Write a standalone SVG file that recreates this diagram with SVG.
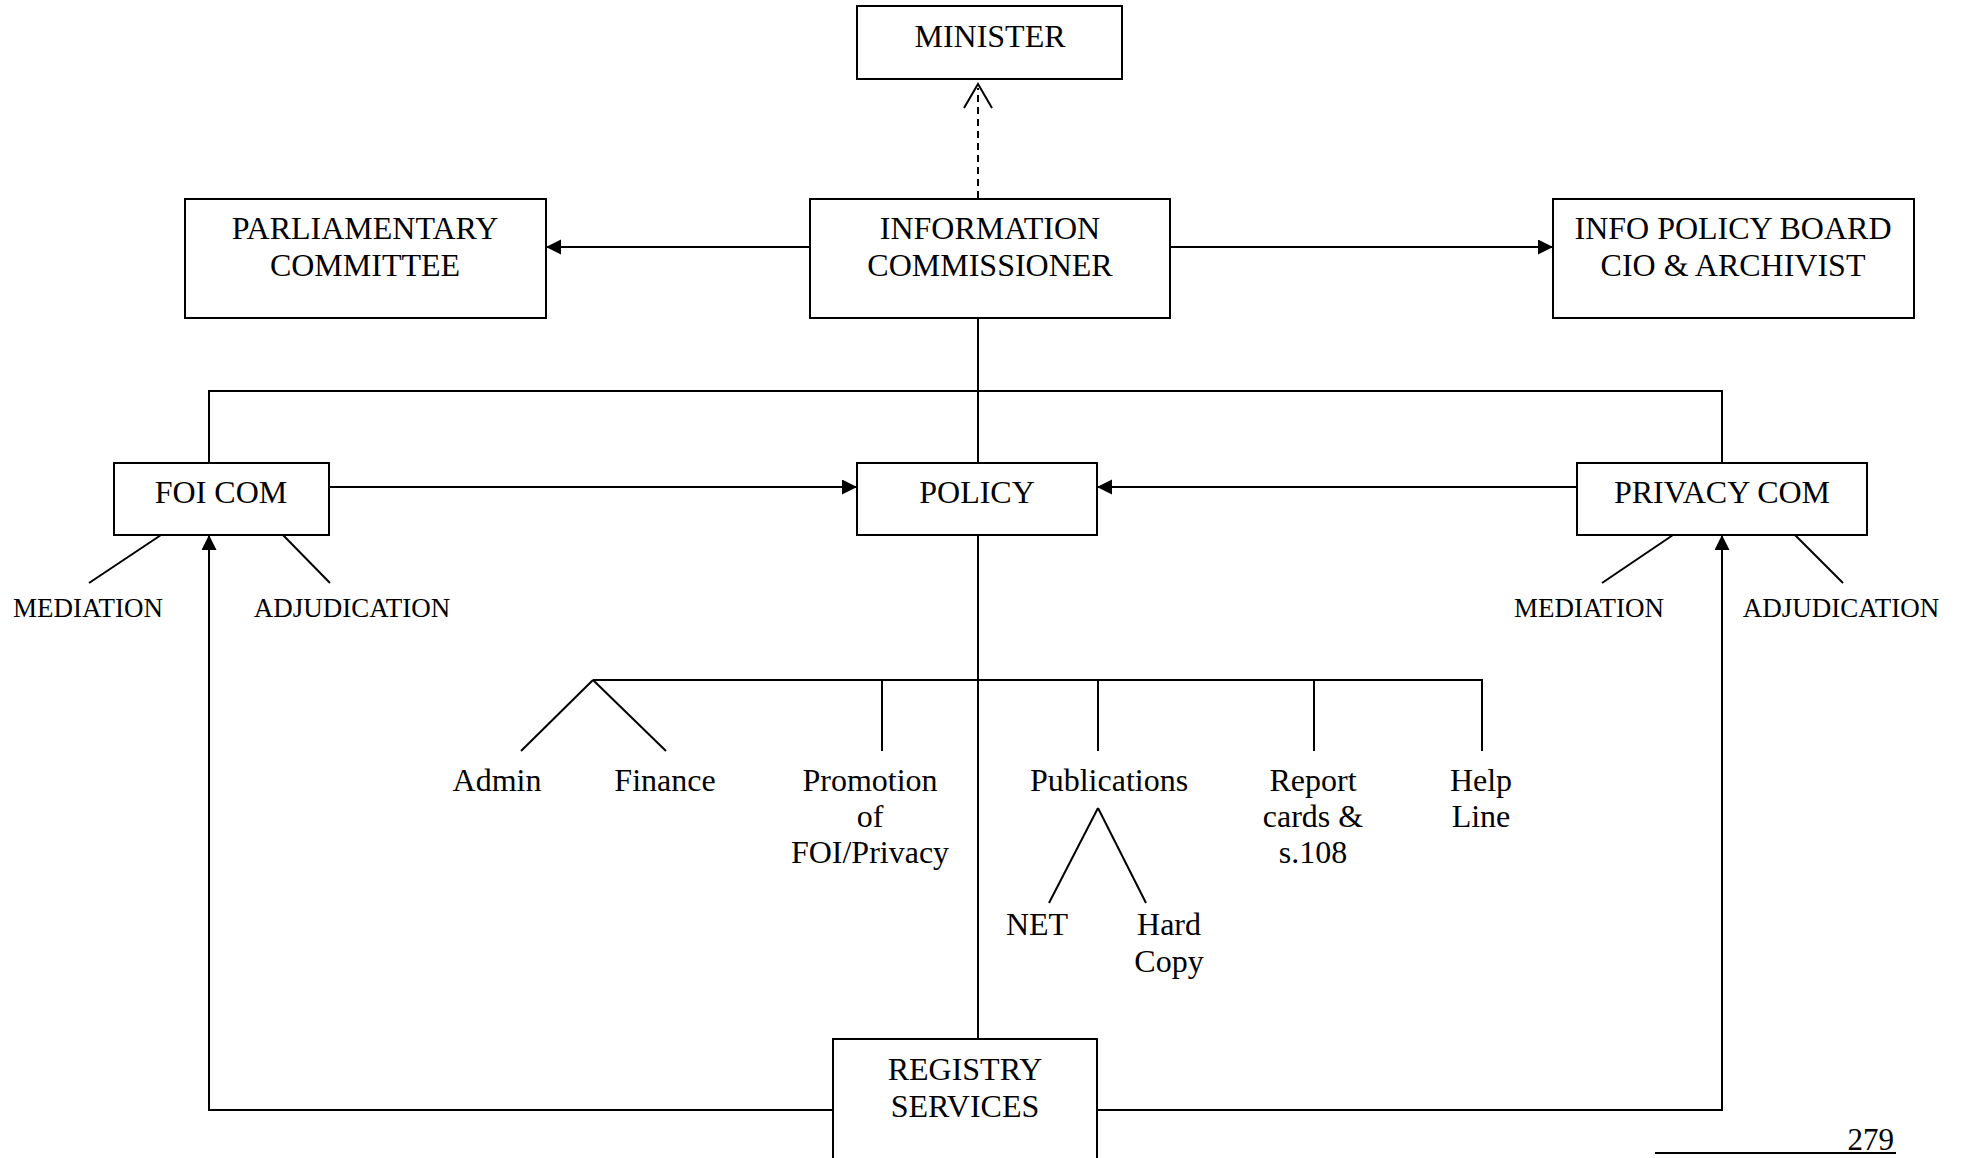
<svg xmlns="http://www.w3.org/2000/svg" width="1962" height="1158" viewBox="0 0 1962 1158">
<style>
  .box { fill: #fff; stroke: #000; stroke-width: 2; }
  .ln { fill: none; stroke: #000; stroke-width: 2; }
  .t { font-family: "Liberation Serif", "Times New Roman", serif; font-size: 32px; fill: #000; text-anchor: middle; }
  .s { font-family: "Liberation Serif", "Times New Roman", serif; font-size: 27px; fill: #000; text-anchor: middle; }
</style>
<defs>
  <marker id="ah" markerWidth="16" markerHeight="16" refX="15" refY="7.5" orient="auto" markerUnits="userSpaceOnUse">
    <path d="M0,0 L15,7.5 L0,15 Z" fill="#000"/>
  </marker>
</defs>
<rect width="1962" height="1158" fill="#fff"/>

<g id="connectors">
  <line class="ln" x1="978" y1="198" x2="978" y2="88" stroke-dasharray="7,5"/>
  <path class="ln" d="M964,108 L978,84 L992,108"/>
  <line class="ln" x1="810" y1="247" x2="546" y2="247" marker-end="url(#ah)"/>
  <line class="ln" x1="1170" y1="247" x2="1553" y2="247" marker-end="url(#ah)"/>
  <line class="ln" x1="978" y1="318" x2="978" y2="463"/>
  <path class="ln" d="M209,463 L209,391 L1722,391 L1722,463"/>
  <line class="ln" x1="329" y1="487" x2="857" y2="487" marker-end="url(#ah)"/>
  <line class="ln" x1="1577" y1="487" x2="1097" y2="487" marker-end="url(#ah)"/>
  <line class="ln" x1="161" y1="535" x2="89" y2="583"/>
  <line class="ln" x1="283" y1="535" x2="330" y2="583"/>
  <line class="ln" x1="1673" y1="535" x2="1602" y2="583"/>
  <line class="ln" x1="1795" y1="535" x2="1843" y2="583"/>
  <line class="ln" x1="978" y1="535" x2="978" y2="1039"/>
  <path class="ln" d="M593,680 L1482,680 L1482,751"/>
  <line class="ln" x1="593" y1="680" x2="521" y2="751"/>
  <line class="ln" x1="593" y1="680" x2="666" y2="751"/>
  <line class="ln" x1="882" y1="680" x2="882" y2="751"/>
  <line class="ln" x1="1098" y1="680" x2="1098" y2="751"/>
  <line class="ln" x1="1314" y1="680" x2="1314" y2="751"/>
  <line class="ln" x1="1098" y1="808" x2="1049" y2="903"/>
  <line class="ln" x1="1098" y1="808" x2="1146" y2="903"/>
  <path class="ln" d="M833,1110 L209,1110 L209,535" marker-end="url(#ah)"/>
  <path class="ln" d="M1097,1110 L1722,1110 L1722,535" marker-end="url(#ah)"/>
</g>

<g id="minister">
  <rect class="box" x="857" y="6" width="265" height="73"/>
  <text class="t" x="990" y="47">MINISTER</text>
</g>
<g id="information-commissioner">
  <rect class="box" x="810" y="199" width="360" height="119"/>
  <text class="t" x="990" y="239">INFORMATION</text>
  <text class="t" x="990" y="276">COMMISSIONER</text>
</g>
<g id="parliamentary-committee">
  <rect class="box" x="185" y="199" width="361" height="119"/>
  <text class="t" x="365" y="239">PARLIAMENTARY</text>
  <text class="t" x="365" y="276">COMMITTEE</text>
</g>
<g id="info-policy-board">
  <rect class="box" x="1553" y="199" width="361" height="119"/>
  <text class="t" x="1733" y="239">INFO POLICY BOARD</text>
  <text class="t" x="1733" y="276">CIO &amp; ARCHIVIST</text>
</g>
<g id="foi-com">
  <rect class="box" x="114" y="463" width="215" height="72"/>
  <text class="t" x="221" y="503">FOI COM</text>
</g>
<g id="policy">
  <rect class="box" x="857" y="463" width="240" height="72"/>
  <text class="t" x="977" y="503">POLICY</text>
</g>
<g id="privacy-com">
  <rect class="box" x="1577" y="463" width="290" height="72"/>
  <text class="t" x="1722" y="503">PRIVACY COM</text>
</g>
<g id="foi-mediation"><text class="s" x="88" y="617">MEDIATION</text></g>
<g id="foi-adjudication"><text class="s" x="352" y="617">ADJUDICATION</text></g>
<g id="privacy-mediation"><text class="s" x="1589" y="617">MEDIATION</text></g>
<g id="privacy-adjudication"><text class="s" x="1841" y="617">ADJUDICATION</text></g>
<g id="admin"><text class="t" x="497" y="791">Admin</text></g>
<g id="finance"><text class="t" x="665" y="791">Finance</text></g>
<g id="promotion">
  <text class="t" x="870" y="791">Promotion</text>
  <text class="t" x="870" y="827">of</text>
  <text class="t" x="870" y="863">FOI/Privacy</text>
</g>
<g id="publications"><text class="t" x="1109" y="791">Publications</text></g>
<g id="report-cards">
  <text class="t" x="1313" y="791">Report</text>
  <text class="t" x="1313" y="827">cards &amp;</text>
  <text class="t" x="1313" y="863">s.108</text>
</g>
<g id="help-line">
  <text class="t" x="1481" y="791">Help</text>
  <text class="t" x="1481" y="827">Line</text>
</g>
<g id="net"><text class="t" x="1037" y="935">NET</text></g>
<g id="hard-copy">
  <text class="t" x="1169" y="935">Hard</text>
  <text class="t" x="1169" y="972">Copy</text>
</g>
<g id="registry-services">
  <rect class="box" x="833" y="1039" width="264" height="140"/>
  <text class="t" x="965" y="1080">REGISTRY</text>
  <text class="t" x="965" y="1117">SERVICES</text>
</g>
<g id="footer">
  <line class="ln" x1="1655" y1="1153" x2="1896" y2="1153"/>
  <text class="t" x="1894" y="1150" style="text-anchor:end;font-size:31px">279</text>
</g>
</svg>
